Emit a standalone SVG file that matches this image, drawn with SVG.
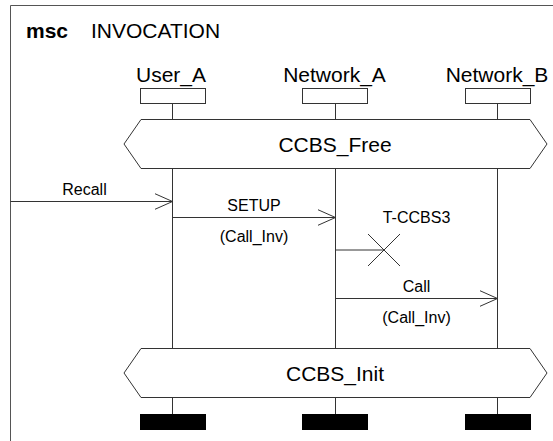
<svg xmlns="http://www.w3.org/2000/svg" width="553" height="441" viewBox="0 0 553 441">
  <style>
    .ln { stroke: #333; stroke-width: 1; fill: none; }
    .fr { stroke: #555; stroke-width: 1; fill: none; }
    .box { stroke: #333; stroke-width: 1; fill: #fff; }
    .bar { fill: #000; }
    .big { font-family: "Liberation Sans", Arial, sans-serif; font-size: 21px; fill: #000; }
    .sm { font-family: "Liberation Sans", Arial, sans-serif; font-size: 16px; fill: #000; }
    .mid { text-anchor: middle; }
  </style>
  <defs>
    <marker id="open" markerWidth="20" markerHeight="18" refX="18" refY="8.5" orient="auto" markerUnits="userSpaceOnUse">
      <path d="M0,0.5 L18,8.5 L0,16.5" stroke="#333" stroke-width="1" fill="none"/>
    </marker>
  </defs>
  <rect width="553" height="441" fill="#fff"/>

  <g id="frame">
    <path class="fr" d="M10.5,441 V5.5 H553"/>
    <text class="big" x="26" y="38" font-weight="bold">msc</text>
    <text class="big" x="91" y="38">INVOCATION</text>
  </g>

  <g id="lifelines">
    <path class="ln" d="M172.5,103 V414 M335.5,103 V414 M497.5,103 V414"/>
  </g>

  <g id="User_A">
    <text class="big mid" x="171" y="81.5">User_A</text>
    <rect class="box" x="140.5" y="88.5" width="65" height="15"/>
    <rect class="bar" x="140" y="414" width="66" height="16"/>
  </g>
  <g id="Network_A">
    <text class="big mid" x="334.5" y="81.5">Network_A</text>
    <rect class="box" x="302.5" y="88.5" width="65" height="15"/>
    <rect class="bar" x="302" y="414" width="66" height="16"/>
  </g>
  <g id="Network_B">
    <text class="big mid" x="497" y="81.5">Network_B</text>
    <rect class="box" x="465.5" y="88.5" width="65" height="15"/>
    <rect class="bar" x="465" y="414" width="66" height="16"/>
  </g>

  <g id="cond_CCBS_Free">
    <polygon class="box" points="141,119.5 530,119.5 547,144 530,168.5 141,168.5 124,144"/>
    <text class="big mid" x="335" y="151.5">CCBS_Free</text>
  </g>

  <g id="cond_CCBS_Init">
    <polygon class="box" points="141,348.5 530,348.5 547,373 530,397.5 141,397.5 124,373"/>
    <text class="big mid" x="335" y="380.5">CCBS_Init</text>
  </g>

  <g id="connectors">
    <line class="ln" x1="10.5" y1="201.5" x2="172.5" y2="201.5" marker-end="url(#open)"/>
    <line class="ln" x1="172.5" y1="217.5" x2="335.5" y2="217.5" marker-end="url(#open)"/>
    <line class="ln" x1="335.5" y1="298.5" x2="497.5" y2="298.5" marker-end="url(#open)"/>
  </g>

  <g id="labels">
    <text class="sm mid" x="84.5" y="195">Recall</text>
    <text class="sm mid" x="254" y="211">SETUP</text>
    <text class="sm mid" x="254" y="242">(Call_Inv)</text>
    <text class="sm mid" x="416.5" y="292">Call</text>
    <text class="sm mid" x="416.5" y="323">(Call_Inv)</text>
  </g>

  <g id="timer_T-CCBS3">
    <line class="ln" x1="335.5" y1="250" x2="384" y2="250"/>
    <path class="ln" d="M368,234 L400,266 M400,234 L368,266"/>
    <text class="sm mid" x="416.5" y="222.5">T-CCBS3</text>
  </g>
</svg>
